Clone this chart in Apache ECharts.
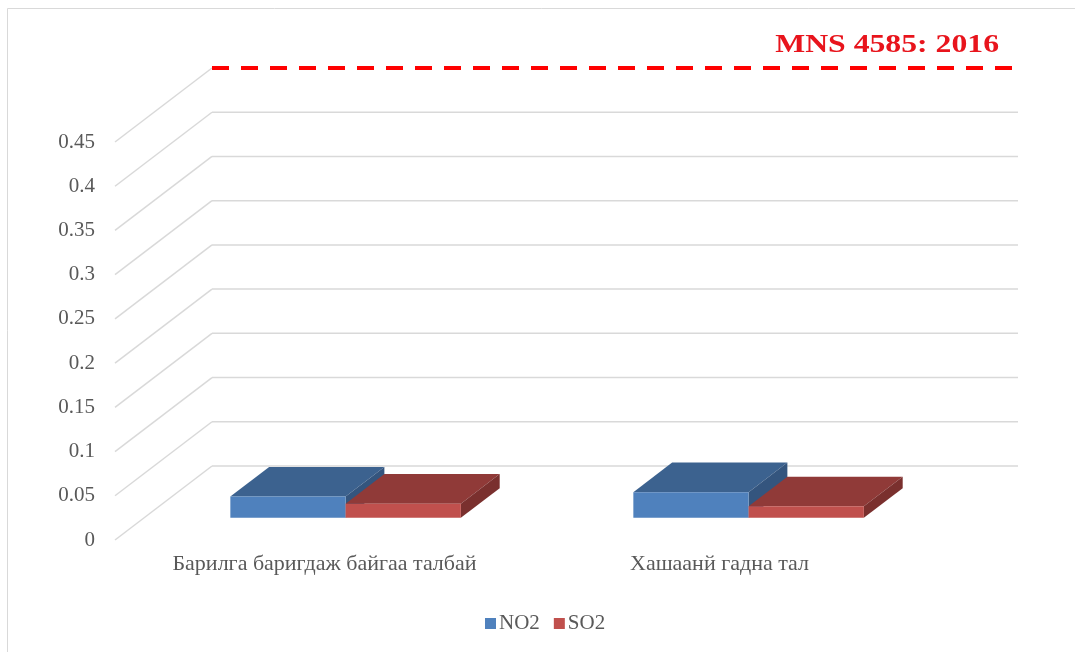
<!DOCTYPE html>
<html>
<head>
<meta charset="utf-8">
<script src="https://cdn.jsdelivr.net/npm/echarts@6/dist/echarts.min.js"></script>
<style>
  html, body { margin: 0; padding: 0; background: #fff; }
  #chart { width: 1075px; height: 652px; }
</style>
</head>
<body>
<div id="chart"></div>
<script>
const categories = ['Барилга баригдаж байгаа талбай', 'Хашаанй гадна тал'];
const no2 = [0.024, 0.029];
const so2 = [0.016, 0.013];
const yTicks = [0, 0.05, 0.1, 0.15, 0.2, 0.25, 0.3, 0.35, 0.4, 0.45];
const limitValue = [0.45];
const limitLabel = 'MNS 4585: 2016';

// perspective offset of the back wall
const DEPTH_X = 97;
const DEPTH_Y = -74;
const FONT = '"Liberation Serif", "Times New Roman", serif';

// 3d looking bar: side -1 = left of category center, 1 = right
function bar3d(side, frontColor, topColor, sideColor) {
  return function (params, api) {
    const cat = api.value(0);
    const base = api.coord([cat, 0]);
    const tip = api.coord([cat, api.value(1)]);
    const band = api.size([1, 0])[0];
    const w = band * 0.286;
    const d0 = 0.3, d1 = 0.7;
    const x0 = base[0] + (side < 0 ? -w : 0) + DEPTH_X * d0;
    const x1 = x0 + w;
    const yb = base[1] + DEPTH_Y * d0;
    const yt = tip[1] + DEPTH_Y * d0;
    const dx = DEPTH_X * (d1 - d0);
    const dy = DEPTH_Y * (d1 - d0);
    return {
      type: 'group',
      children: [
        { type: 'polygon', shape: { points: [[x0, yt], [x1, yt], [x1 + dx, yt + dy], [x0 + dx, yt + dy]] }, style: { fill: topColor } },
        { type: 'polygon', shape: { points: [[x1, yt], [x1 + dx, yt + dy], [x1 + dx, yb + dy], [x1, yb]] }, style: { fill: sideColor } },
        { type: 'rect', shape: { x: x0, y: yt, width: w, height: yb - yt }, style: { fill: frontColor } }
      ]
    };
  };
}

const myChart = echarts.init(document.getElementById('chart'), null, { renderer: 'canvas' });

const option = {
  animation: false,
  backgroundColor: '#fff',
  graphic: [
    { type: 'rect', shape: { x: 7.5, y: 8.5, width: 1100, height: 700 }, style: { fill: 'none', stroke: '#d9d9d9', lineWidth: 1 }, silent: true }
  ],
  grid: { left: 115, right: 154, top: 142, bottom: 112 },
  legend: {
    data: ['NO2', 'SO2'],
    left: 480,
    top: 608,
    icon: 'rect',
    itemWidth: 11,
    itemHeight: 11,
    itemGap: 14,
    textStyle: { fontFamily: FONT, fontSize: 21, color: '#595959', padding: [0, 0, 0, -2] }
  },
  xAxis: {
    type: 'category',
    data: categories,
    axisLine: { show: false },
    axisTick: { show: false },
    splitLine: { show: false },
    axisLabel: {
      interval: 0,
      margin: 13,
      fontFamily: FONT,
      fontSize: 22,
      color: '#595959',
      formatter: function (value, index) {
        return index === 0 ? '{first|' + value + '}' : value;
      },
      rich: {
        first: { fontFamily: FONT, fontSize: 22, color: '#595959', padding: [0, 0, 0, 16] }
      }
    }
  },
  yAxis: {
    type: 'value',
    min: 0,
    max: 0.45,
    interval: 0.05,
    axisLine: { show: false },
    axisTick: { show: false },
    splitLine: { show: false },
    axisLabel: { margin: 20, fontFamily: FONT, fontSize: 21, color: '#595959' }
  },
  series: [
    {
      name: 'grid3d',
      type: 'custom',
      silent: true,
      data: yTicks.map(v => [0, v]),
      encode: { x: 0, y: 1 },
      z: 1,
      renderItem: function (params, api) {
        const v = api.value(1);
        const p = api.coord([0, v]);
        const cs = params.coordSys;
        const x = cs.x;
        const y = p[1];
        const children = [
          { type: 'line', shape: { x1: x, y1: y, x2: x + DEPTH_X, y2: y + DEPTH_Y }, style: { stroke: '#d9d9d9', lineWidth: 1.5 } }
        ];
        if (limitValue.indexOf(v) < 0) {
          children.push({ type: 'line', shape: { x1: x + DEPTH_X, y1: y + DEPTH_Y, x2: x + cs.width + DEPTH_X, y2: y + DEPTH_Y }, style: { stroke: '#d9d9d9', lineWidth: 1.5 } });
        }
        return { type: 'group', children: children };
      }
    },
    {
      name: 'limit',
      type: 'custom',
      silent: true,
      data: limitValue.map(v => [0, v]),
      encode: { x: 0, y: 1 },
      z: 3,
      renderItem: function (params, api) {
        const p = api.coord([0, api.value(1)]);
        const cs = params.coordSys;
        const y = p[1] + DEPTH_Y;
        const xs = cs.x + DEPTH_X;
        const xe = cs.x + cs.width + DEPTH_X;
        return {
          type: 'group',
          children: [
            { type: 'line', shape: { x1: xs, y1: y, x2: xe, y2: y }, style: { stroke: '#ff0000', lineWidth: 4, lineDash: [17, 12] } },
            {
              type: 'text',
              x: xe - 19,
              y: y - 10,
              scaleX: 1.22,
              style: { text: limitLabel, x: 0, y: 0, align: 'right', verticalAlign: 'bottom', fill: '#e8141c', font: 'bold 26px ' + FONT }
            }
          ]
        };
      }
    },
    {
      name: 'NO2',
      type: 'custom',
      itemStyle: { color: '#4f81bd' },
      data: no2.map((v, i) => [i, v]),
      encode: { x: 0, y: 1 },
      z: 4,
      renderItem: bar3d(-1, '#4f81bd', '#3c628f', '#34557e')
    },
    {
      name: 'SO2',
      type: 'custom',
      itemStyle: { color: '#c0504d' },
      data: so2.map((v, i) => [i, v]),
      encode: { x: 0, y: 1 },
      z: 5,
      renderItem: bar3d(1, '#c0504d', '#903a38', '#7a302e')
    }
  ]
};

myChart.setOption(option);
window.addEventListener('resize', () => myChart.resize());
</script>
</body>
</html>
